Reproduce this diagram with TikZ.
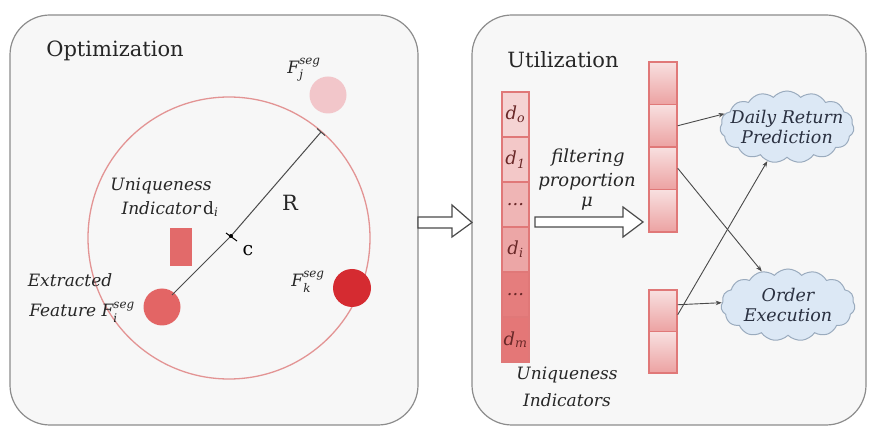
\documentclass[tikz,border=0pt]{standalone}
\usepackage{fontspec}
\usepackage{amsmath}
\setmainfont{DejaVu Serif}
\usetikzlibrary{shapes.symbols,arrows.meta,calc}
\definecolor{panelbg}{HTML}{F7F7F7}
\definecolor{panelbd}{HTML}{8C8C8C}
\definecolor{txt}{HTML}{262626}
\definecolor{ring}{HTML}{E39494}
\definecolor{fj}{HTML}{F2C6CA}
\definecolor{fk}{HTML}{D52B31}
\definecolor{fi}{HTML}{E36565}
\definecolor{drect}{HTML}{E26A6A}
\definecolor{cellbd}{HTML}{E07878}
\definecolor{cellA}{HTML}{F5D3D3}
\definecolor{cellB}{HTML}{F3C8C8}
\definecolor{cellC}{HTML}{EFB5B5}
\definecolor{cellD}{HTML}{ECA6A6}
\definecolor{cellE}{HTML}{E57D7D}
\definecolor{cellF}{HTML}{E47777}
\definecolor{celltop}{HTML}{F8E0E0}
\definecolor{cellbot}{HTML}{ECA2A2}
\definecolor{celltxt}{HTML}{6A2828}
\definecolor{cloudfill}{HTML}{DCE8F5}
\definecolor{cloudbd}{HTML}{9AABBE}
\definecolor{linec}{HTML}{4A4A4A}
\definecolor{cloudtxt}{HTML}{2A3040}
\newcommand\fs[1]{\fontsize{#1}{#1}\selectfont}
\tikzset{
  panel/.style={draw=panelbd,fill=panelbg,line width=1.2pt,rounded corners=40pt},
  title/.style={text=txt,font=\fs{21}},
  lab/.style={text=txt,font=\fs{17}\itshape,inner sep=0pt},
  icell/.style={draw=cellbd,line width=1.2pt,minimum width=27pt,minimum height=45pt,inner sep=0pt,text=celltxt,font=\fs{18}\itshape},
  mcell/.style={draw=cellbd,line width=1.4pt,top color=celltop,bottom color=cellbot,minimum width=28pt,inner sep=0pt},
  cloudn/.style={cloud,cloud puffs=15,cloud puff arc=100,cloud ignores aspect,draw=cloudbd,fill=cloudfill,line width=1pt,minimum width=134pt,minimum height=72pt,inner sep=0pt},
  cloudt/.style={align=center,inner sep=0pt,text=cloudtxt,font=\fs{17.5}\itshape},
  hollow/.style={draw=linec,fill=white,line width=1.2pt,line join=miter},
  conn/.style={draw=linec,line width=0.9pt,-{Stealth[length=6pt,width=4.5pt]}},
}
\begin{document}
\begin{tikzpicture}[x=1pt,y=-1pt]
\useasboundingbox[fill=white] (0,0) rectangle (873,435);
% panels
\draw[panel] (10,15) rectangle (418,425);
\draw[panel] (472,15) rectangle (866,425);
\node[title] (opt) at (115,51) {Optimization};
\node[title] (uti) at (563,60) {Utilization};
% between-panel hollow arrow
\coordinate (ha) at (418,222.5);
\draw[hollow] (ha) ++(0,-5.5) -- ++(34,0) -- ++(0,-12) -- (472,222.5) -- (452,237) -- ++(0,-9) -- ++(-34,0) -- cycle;
% circle
\coordinate (ctr) at (229,238);
\draw[ring,line width=1.3pt] (ctr) circle[radius=141];
\node[circle,fill=fj,minimum size=37pt,inner sep=0pt] (Fj) at (328,95) {};
\node[circle,fill=fk,minimum size=38pt,inner sep=0pt] (Fk) at (352,288) {};
\node[circle,fill=fi,minimum size=37pt,inner sep=0pt] (Fi) at (162,307) {};
\node[fill=drect,minimum width=22pt,minimum height=38pt,inner sep=0pt] (drec) at (181,247) {};
% radius line
\coordinate (c) at (231,236);
\coordinate (rend) at (321,132);
\coordinate (lend) at (172,295);
\draw[linec,line width=1pt] (lend) -- (c) -- (rend);
\draw[linec,line width=1pt] ($(rend)+(-4,-3.5)$) -- ($(rend)+(4,3.5)$);
\draw[black,line width=1pt] (226,233) -- (237,241);
\fill[black] (c) circle[radius=2];
\node[text=txt,font=\fs{21}] (R) at (290,203) {R};
\node[text=black,font=\fs{19}] (cl) at (248,251) {c};
% labels
\node[lab] (fjl) at (304,70) {\textit{F}$^{\textit{seg}}_{\textit{j}}$};
\node[lab] (fkl) at (308,282) {\textit{F}$^{\textit{seg}}_{\textit{k}}$};
\node[lab] (u1) at (161,186) {Uniqueness};
\node[lab] (u2) at (170,209) {Indicator\,\upshape d$_{\textit{i}}$};
\node[lab] (e1) at (70,280) {Extracted};
\node[lab] (e2) at (82,312) {Feature \textit{F}$^{\textit{seg}}_{\textit{i}}$};
% indicator column
\node[icell,fill=cellA] (d0) at (515.5,114.5) {d$_{\textit{o}}$};
\node[icell,fill=cellB] (d1) at (515.5,159.5) {d$_{\textit{1}}$};
\node[icell,fill=cellC] (d2) at (515.5,204.5) {...};
\node[icell,fill=cellD] (d3) at (515.5,249.5) {d$_{\textit{i}}$};
\node[icell,fill=cellE] (d4) at (515.5,294.5) {...};
\node[icell,fill=cellF] (d5) at (515.5,339.5) {d$_{\textit{m}}$};
\node[lab] (ui1) at (567,375) {Uniqueness};
\node[lab] (ui2) at (567,400) {Indicators};
% filtering
\node[lab,font=\fs{18}\itshape] (f1) at (588,158) {filtering};
\node[lab,font=\fs{18}\itshape] (f2) at (587,182) {proportion};
\node[lab,font=\fs{18}\itshape] (f3) at (587,204) {μ};
\coordinate (fa) at (535,222);
\draw[hollow] (fa) ++(0,-5) -- ++(88,0) -- ++(0,-10) -- (643,222) -- (623,237) -- ++(0,-10) -- ++(-88,0) -- cycle;
% middle columns
\node[mcell,minimum height=42.5pt] (m1) at (663,83.25) {};
\node[mcell,minimum height=42.5pt] (m2) at (663,125.75) {};
\node[mcell,minimum height=42.5pt] (m3) at (663,168.25) {};
\node[mcell,minimum height=42.5pt] (m4) at (663,210.75) {};
\node[mcell,minimum height=41.5pt] (n1) at (663,310.75) {};
\node[mcell,minimum height=41.5pt] (n2) at (663,352.25) {};
% clouds
\node[cloudn] (c1) at (787,127) {};
\node[cloudt] (c1t) at (c1.center) {Daily Return\\[3pt]Prediction};
\node[cloudn] (c2) at (788,305) {};
\node[cloudt] (c2t) at (c2.center) {Order\\[3pt]Execution};
% connectors
\draw[conn] (m2.east) -- (c1.168);
\draw[conn] (m3.east) -- (c2.128);
\draw[conn] ([yshift=-4pt]n1.east) -- (c1.240);
\draw[conn] ([yshift=6pt]n1.east) -- (c2.178);
\end{tikzpicture}
\end{document}
